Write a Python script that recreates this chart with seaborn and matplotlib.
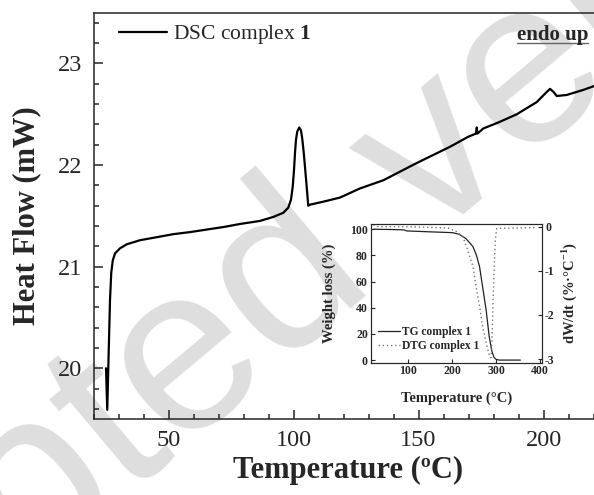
import seaborn as sns
import matplotlib.pyplot as plt
from matplotlib.lines import Line2D
from matplotlib.ticker import MultipleLocator

# DSC curve (main plot)
temp_dsc = [25.0, 25.5, 26.2, 26.6, 27.1, 27.7, 28.6, 30.6, 33.3, 38.6,
            45.3, 52, 58.6, 66.6, 72, 78.6, 86.6, 92, 95.9, 97.9,
            99.0, 99.7, 100.2, 100.6, 101.0, 101.5, 102.3, 103.0, 103.5, 104.1,
            104.6, 105.3, 105.9, 106.6, 112, 118.6, 126.6, 135.9, 149.3, 162.6,
            170, 173.0, 173.3, 173.6, 175.9, 182, 189.3, 197.3, 201.3, 202.6,
            204.0, 205.3, 209.3, 215.9, 220.5]
heat_flow = [20.0, 19.59, 20.28, 20.67, 20.94, 21.06, 21.13, 21.18, 21.22, 21.26,
             21.29, 21.32, 21.34, 21.37, 21.39, 21.42, 21.45, 21.49, 21.53, 21.58,
             21.66, 21.79, 21.95, 22.12, 22.25, 22.33, 22.37, 22.34, 22.26, 22.12,
             21.98, 21.78, 21.60, 21.61, 21.64, 21.68, 21.77, 21.85, 22.02, 22.18,
             22.28, 22.31, 22.37, 22.31, 22.36, 22.42, 22.50, 22.62, 22.72, 22.75,
             22.72, 22.68, 22.69, 22.74, 22.78]

# TG curve (inset, left axis)
temp_tg = [20, 60, 90, 96, 150, 200, 215, 230, 240, 247, 255, 262, 269, 277,
           284, 290, 295, 300, 307, 355]
weight = [100, 99.8, 99.5, 98.7, 98.0, 97.4, 96.2, 93.1, 89.5, 86.7, 80, 71.4,
          56, 38.3, 18, 7, 2, 0.5, 0, 0]

# DTG curve (inset, right axis)
temp_dtg = [20, 25, 30, 100, 190, 209, 224, 235, 247, 254, 262, 269, 277, 284,
            288, 290, 293, 295.5, 298, 301, 390]
dtg = [0.04, 0.03, 0.0, 0.0, -0.03, -0.11, -0.23, -0.53, -0.9, -1.35, -1.8,
       -2.26, -2.63, -2.9, -2.97, -2.63, -1.65, -0.9, -0.3, -0.04, -0.02]

sns.set_style("ticks")
plt.rcParams['font.family'] = ['Liberation Serif', 'DejaVu Serif']
plt.rcParams['mathtext.fontset'] = 'custom'
plt.rcParams['mathtext.rm'] = 'Liberation Serif'
plt.rcParams['mathtext.bf'] = 'Liberation Serif:bold'
plt.rcParams['axes.unicode_minus'] = False

W, H = 594, 495
fig = plt.figure(figsize=(5.94, 4.95), dpi=100)

# watermark
fig.text(279 / W, 1 - 290 / H, "Accepted version", rotation=40,
         fontsize=170, color='#dedede', family='Liberation Sans',
         ha='center', va='center', zorder=-5)

ax = fig.add_axes([93.5 / W, 1 - 419 / H, 525 / W, 406.3 / H])
ax.set_facecolor('none')
sns.lineplot(x=temp_dsc, y=heat_flow, ax=ax, color='black', lw=1.6,
             sort=False, estimator=None, label=r'DSC complex $\mathbf{1}$')
ax.set_xlim(20, 230)
ax.set_ylim(19.5, 23.5)
ax.set_xticks([50, 100, 150, 200])
ax.xaxis.set_minor_locator(MultipleLocator(10))
ax.yaxis.set_major_locator(MultipleLocator(1))
ax.yaxis.set_minor_locator(MultipleLocator(0.2))
ax.tick_params(which='both', direction='in', top=False, right=False,
               labelsize=17.5, width=1.1, pad=8)
ax.tick_params(which='major', length=6.5)
ax.tick_params(which='minor', length=3.6)
for s in ax.spines.values():
    s.set_linewidth(1.1)
ax.set_xlabel('Temperature (ºC)', fontsize=22, fontweight='bold', labelpad=5)
ax.xaxis.set_label_coords((348 - 93.5) / 525, -0.09)
ax.set_ylabel('Heat Flow (mW)', fontsize=22, fontweight='bold', labelpad=12)
ax.legend(loc='center left', bbox_to_anchor=(119 / W, 1 - 35 / H),
          bbox_transform=fig.transFigure, frameon=False, fontsize=15.5,
          borderpad=0, borderaxespad=0, handlelength=2.25, handletextpad=0.25)

fig.text(517 / W, 1 - 35 / H, 'endo up', fontsize=15, fontweight='bold',
         ha='left', va='center')
fig.add_artist(Line2D([517 / W, 588 / W], [1 - 43 / H, 1 - 43 / H],
                      transform=fig.transFigure, color='#666666', lw=1))

# inset TG / DTG
ins = fig.add_axes([370.7 / W, 1 - 362.7 / H, 171.6 / W, 138.7 / H])
ins.set_facecolor('none')
sns.lineplot(x=temp_tg, y=weight, ax=ins, color='#222222', lw=0.9,
             sort=False, estimator=None, label='TG complex 1', legend=False)
ins.set_xlim(14, 405)
ins.set_ylim(-2, 104)
ins.set_xticks([100, 200, 300, 400])
ins.set_yticks([0, 20, 40, 60, 80, 100])
ins2 = ins.twinx()
sns.lineplot(x=temp_dtg, y=dtg, ax=ins2, color='#777777', lw=1.0,
             linestyle=(0, (1, 2)), sort=False, estimator=None,
             label='DTG complex 1', legend=False)
ins2.set_ylim(-3.08, 0.06)
ins2.set_yticks([0, -1, -2, -3])
for a in (ins, ins2):
    a.tick_params(which='both', direction='in', labelsize=8.5, length=3,
                  width=0.8, pad=2)
    for lab in a.get_xticklabels() + a.get_yticklabels():
        lab.set_fontweight('bold')
    for s in a.spines.values():
        s.set_linewidth(0.8)
ins.set_xlabel('Temperature (°C)', fontsize=10.5, fontweight='bold', labelpad=10)
ins.set_ylabel('Weight loss (%)', fontsize=10.5, fontweight='bold', labelpad=10)
ins2.set_ylabel(r'dW/dt (%·°C$^{\mathbf{-1}}$)', fontsize=10.5,
                fontweight='bold', labelpad=3)

h1, l1 = ins.get_legend_handles_labels()
h2, l2 = ins2.get_legend_handles_labels()
ins2.legend(h1 + h2, l1 + l2, loc='center left',
            bbox_to_anchor=(378 / W, 1 - 339 / H), bbox_transform=fig.transFigure,
            frameon=False, prop={'size': 8.3, 'weight': 'bold'},
            borderpad=0, borderaxespad=0, handlelength=1.9,
            handletextpad=0.2, labelspacing=0.25)

fig.savefig('out.png', dpi=100)
